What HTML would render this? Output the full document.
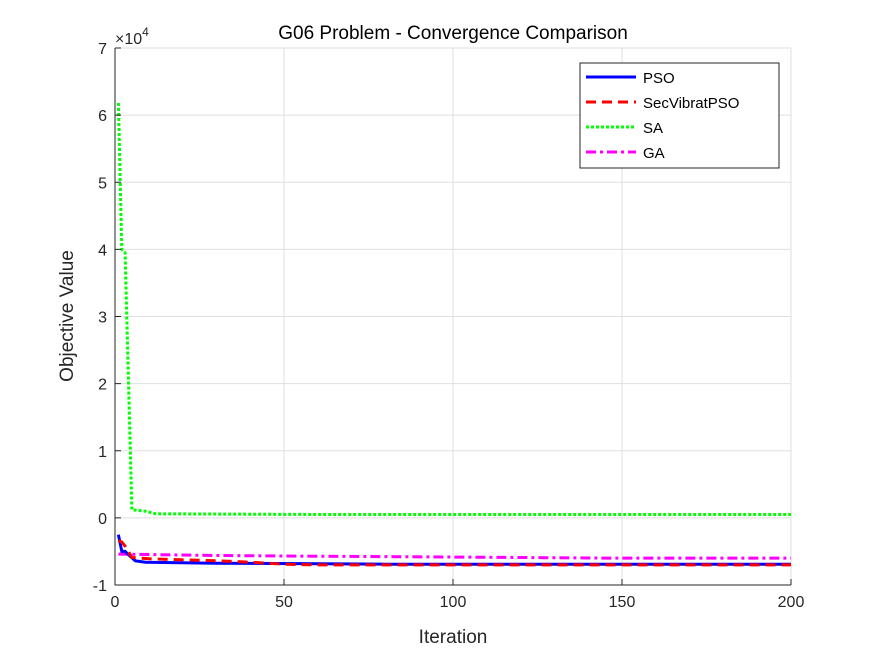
<!DOCTYPE html>
<html><head><meta charset="utf-8"><style>
body{margin:0;background:#fff;}
text{font-family:"Liberation Sans",Arial,sans-serif;}
</style></head><body>
<svg id="chart" width="875" height="656" viewBox="0 0 875 656">
<rect width="875" height="656" fill="#fff"/>
<g id="grid"></g>
<g id="series"></g>
<g id="axes"></g>
<text x="453" y="39" text-anchor="middle" font-size="19" fill="#000">G06 Problem - Convergence Comparison</text>
<text x="453" y="643" text-anchor="middle" font-size="19" fill="#262626">Iteration</text>
<text transform="translate(73,316) rotate(-90)" text-anchor="middle" font-size="19" fill="#262626">Objective Value</text>
<text x="115" y="44" font-size="16" fill="#262626">×10<tspan dy="-8" font-size="12">4</tspan></text>
<g>
<rect x="580" y="63" width="199" height="105" fill="#fff" stroke="#262626" stroke-width="1"/>
<line x1="586" y1="77" x2="636" y2="77" stroke="#0000ff" stroke-width="3"/>
<text x="643" y="83" font-size="15">PSO</text>
<line x1="586" y1="102" x2="636" y2="102" stroke="#ff0000" stroke-width="3" stroke-dasharray="10,6"/>
<text x="643" y="108" font-size="15">SecVibratPSO</text>
<line x1="586" y1="127" x2="636" y2="127" stroke="#00ff00" stroke-width="3" stroke-dasharray="3,2"/>
<text x="643" y="133" font-size="15">SA</text>
<line x1="586" y1="152" x2="636" y2="152" stroke="#ff00ff" stroke-width="3" stroke-dasharray="10,4,3,4"/>
<text x="643" y="158" font-size="15">GA</text>
</g>
</svg>
<script>
const xTicks=[0,50,100,150,200];
const yTicks=[-1,0,1,2,3,4,5,6,7];
const psoIter=[1,2,3,4,6,9,30,80,200];
const psoVal=[-0.25,-0.5,-0.5,-0.55,-0.64,-0.66,-0.675,-0.69,-0.69];
const secIter=[1,2,3,5,10,30,40,50,60,200];
const secVal=[-0.34,-0.36,-0.42,-0.59,-0.61,-0.64,-0.66,-0.69,-0.70,-0.70];
const saIter=[1,2,3,5,9,12,60,200];
const saVal=[6.18,4.0,3.95,0.12,0.1,0.06,0.05,0.05];
const gaIter=[1,30,55,88,120,145,200];
const gaVal=[-0.54,-0.56,-0.57,-0.58,-0.59,-0.60,-0.60];
const X0=115,X1=791,Y0=585,Y1=48;
const sx=v=>X0+(v-0)/(200-0)*(X1-X0);
const sy=v=>Y0-(v-(-1))/(7-(-1))*(Y0-Y1);
const NS="http://www.w3.org/2000/svg";
const grid=document.getElementById('grid'),axes=document.getElementById('axes'),ser=document.getElementById('series');
function mk(tag,attrs,parent){const e=document.createElementNS(NS,tag);for(const k in attrs)e.setAttribute(k,attrs[k]);parent.appendChild(e);return e;}
xTicks.forEach(t=>{
 const g=mk('line',{x1:sx(t),x2:sx(t),y1:Y1,y2:Y0,stroke:'#dfdfdf','stroke-width':1},grid);
 
 
 const k=mk('line',{x1:sx(t),x2:sx(t),y1:Y0,y2:Y0-6,stroke:'#262626'},axes);
 
 
 const l=mk('text',{x:sx(t),y:Y0+22,'text-anchor':'middle','font-size':16,fill:'#262626'},axes);l.textContent=t;
 
 
});
yTicks.forEach(t=>{
 const g=mk('line',{x1:X0,x2:X1,y1:sy(t),y2:sy(t),stroke:'#dfdfdf','stroke-width':1},grid);
 
 
 const k=mk('line',{x1:X0,x2:X0+6,y1:sy(t),y2:sy(t),stroke:'#262626'},axes);
 
 
 const l=mk('text',{x:X0-8,y:sy(t)+6,'text-anchor':'end','font-size':16,fill:'#262626'},axes);l.textContent=t;
 
 
});
const ax=mk('path',{d:`M${X0},${Y1}V${Y0}H${X1}`,fill:'none',stroke:'#262626','stroke-width':1},axes);


function series(it,vals,color,dash,name){
 let d='';it.forEach((x,i)=>{d+=(i?'L':'M')+sx(x).toFixed(1)+','+sy(vals[i]).toFixed(1);});
 const p=mk('path',{d:d,fill:'none',stroke:color,'stroke-width':3,'stroke-dasharray':dash},ser);
 
 
}
series(gaIter,gaVal,'#ff00ff','10,4,3,4','ga-line');
series(saIter,saVal,'#00ff00','3,2','sa-line');
series(psoIter,psoVal,'#0000ff','none','pso-line');
series(secIter,secVal,'#ff0000','10,6','secvibratpso-line');
</script>
</body></html>
